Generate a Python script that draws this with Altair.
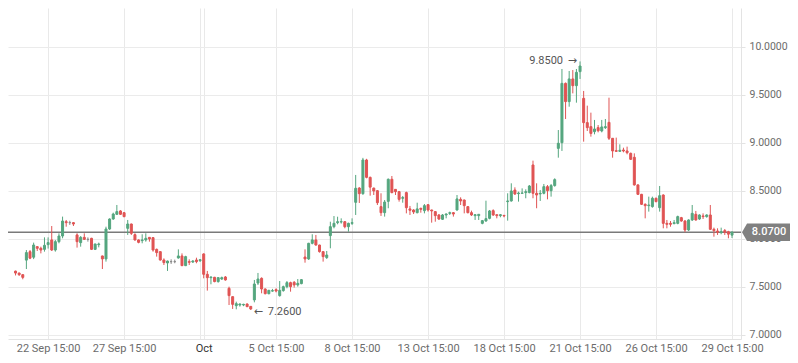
import altair as alt
import pandas as pd

# Hourly OHLC candles (index = trading hour, 7 bars per day)
open_ = [7.665, 7.645, 7.628, 7.78, 7.868, 7.81, 7.92, 7.903, 7.892, 7.941,
         7.99, 7.885, 7.972, 8.031, 8.18, 8.17, 8.17, 8.042, 7.962, 8.017,
         7.996, 8.007, 7.892, 7.941, 7.823, 7.792, 8.104, 8.208, 8.257, 8.292,
         8.274, 8.111, 8.156, 8.045, 7.99, 7.983, 7.99, 8.017, 8.014, 7.892,
         7.868, 7.781, 7.75, 7.764, 7.764, 7.802, 7.823, 7.722, 7.764, 7.76,
         7.781, 7.774, 7.844, 7.632, 7.597, 7.601, 7.556, 7.583, 7.604, 7.486,
         7.399, 7.305, 7.312, 7.312, 7.322, 7.298, 7.365, 7.541, 7.59, 7.479,
         7.43, 7.457, 7.472, 7.41, 7.462, 7.503, 7.545, 7.548, 7.521, 7.535,
         7.812, 7.792, 7.955, 7.99, 7.937, 7.868, 7.806, 8.035, 8.128, 8.17,
         8.177, 8.18, 8.128, 8.163, 8.382, 8.531, 8.472, 8.823, 8.642, 8.53,
         8.503, 8.337, 8.274, 8.392, 8.622, 8.517, 8.493, 8.424, 8.483, 8.313,
         8.302, 8.274, 8.319, 8.295, 8.357, 8.302, 8.285, 8.25, 8.205, 8.25,
         8.267, 8.274, 8.302, 8.413, 8.406, 8.337, 8.274, 8.243, 8.243, 8.163,
         8.187, 8.215, 8.295, 8.253, 8.243, 8.246, 8.389, 8.396, 8.51, 8.472,
         8.476, 8.483, 8.483, 8.771, 8.476, 8.469, 8.476, 8.545, 8.503, 8.556,
         8.944, 9.003, 9.621, 9.431, 9.667, 9.597, 9.743, 9.465, 9.212, 9.17,
         9.118, 9.16, 9.125, 9.16, 9.215, 9.049, 8.92, 8.913, 8.927, 8.917,
         8.892, 8.851, 8.563, 8.465, 8.361, 8.347, 8.337, 8.424, 8.326, 8.458,
         8.163, 8.163, 8.16, 8.163, 8.222, 8.187, 8.094, 8.198, 8.257, 8.208,
         8.24, 8.233, 8.25, 8.101, 8.083, 8.066, 8.087, 8.075, 8.04]
high = [7.67, 7.65, 7.632, 7.885, 7.885, 7.962, 7.925, 7.92, 8.017, 8.017,
        8.135, 7.99, 8.059, 8.233, 8.198, 8.19, 8.175, 8.059, 8.03, 8.059,
        8.017, 8.012, 7.95, 7.962, 7.826, 8.128, 8.215, 8.274, 8.354, 8.30,
        8.28, 8.198, 8.16, 8.059, 7.995, 8.049, 8.059, 8.02, 8.02, 7.90,
        7.87, 7.798, 7.775, 7.788, 7.785, 7.892, 7.85, 7.825, 7.788, 7.78,
        7.805, 7.79, 7.85, 7.667, 7.61, 7.605, 7.60, 7.608, 7.614, 7.503,
        7.40, 7.347, 7.33, 7.325, 7.33, 7.30, 7.573, 7.646, 7.60, 7.485,
        7.47, 7.48, 7.486, 7.562, 7.514, 7.562, 7.555, 7.562, 7.583, 7.583,
        7.892, 7.96, 8.049, 8.042, 7.94, 7.87, 7.875, 8.18, 8.239, 8.232,
        8.215, 8.187, 8.17, 8.215, 8.667, 8.54, 8.845, 8.835, 8.65, 8.535,
        8.51, 8.476, 8.406, 8.63, 8.656, 8.52, 8.50, 8.448, 8.493, 8.344,
        8.31, 8.378, 8.326, 8.364, 8.364, 8.305, 8.29, 8.26, 8.26, 8.267,
        8.285, 8.28, 8.458, 8.434, 8.41, 8.34, 8.295, 8.26, 8.26, 8.198,
        8.399, 8.302, 8.309, 8.255, 8.26, 8.25, 8.476, 8.58, 8.538, 8.493,
        8.527, 8.517, 8.562, 8.816, 8.58, 8.51, 8.573, 8.562, 8.573, 8.632,
        9.135, 9.771, 9.63, 9.75, 9.76, 9.771, 9.85, 9.542, 9.389, 9.316,
        9.24, 9.187, 9.24, 9.25, 9.472, 9.05, 9.056, 8.986, 8.951, 8.962,
        8.90, 8.892, 8.57, 8.47, 8.371, 8.441, 8.441, 8.431, 8.552, 8.465,
        8.198, 8.187, 8.198, 8.243, 8.23, 8.198, 8.205, 8.354, 8.292, 8.257,
        8.267, 8.257, 8.354, 8.118, 8.111, 8.118, 8.104, 8.085, 8.08]
low = [7.62, 7.615, 7.58, 7.687, 7.79, 7.79, 7.875, 7.85, 7.868, 7.90,
       7.875, 7.868, 7.955, 8.007, 8.128, 8.146, 8.135, 7.91, 7.92, 7.99,
       7.972, 7.885, 7.885, 7.913, 7.687, 7.764, 8.094, 8.20, 8.25, 8.25,
       8.226, 8.042, 8.042, 7.983, 7.955, 7.955, 7.972, 7.972, 7.868, 7.816,
       7.774, 7.729, 7.667, 7.74, 7.747, 7.795, 7.718, 7.718, 7.729, 7.75,
       7.747, 7.76, 7.59, 7.462, 7.528, 7.549, 7.545, 7.573, 7.566, 7.312,
       7.271, 7.267, 7.295, 7.30, 7.29, 7.26, 7.34, 7.521, 7.434, 7.423,
       7.423, 7.451, 7.444, 7.399, 7.451, 7.486, 7.451, 7.493, 7.503, 7.528,
       7.753, 7.781, 7.944, 7.93, 7.858, 7.764, 7.792, 7.903, 8.111, 8.153,
       8.16, 8.111, 8.076, 8.146, 8.25, 8.375, 8.46, 8.632, 8.451, 8.458,
       8.354, 8.24, 8.233, 8.32, 8.476, 8.458, 8.389, 8.378, 8.267, 8.25,
       8.26, 8.267, 8.274, 8.267, 8.285, 8.17, 8.18, 8.198, 8.198, 8.215,
       8.25, 8.233, 8.295, 8.354, 8.267, 8.267, 8.24, 8.198, 8.198, 8.153,
       8.18, 8.205, 8.24, 8.215, 8.226, 8.226, 8.191, 8.389, 8.458, 8.389,
       8.469, 8.424, 8.476, 8.424, 8.32, 8.396, 8.465, 8.413, 8.441, 8.545,
       8.847, 8.917, 9.25, 9.378, 9.517, 9.42, 9.667, 9.014, 9.125, 9.066,
       9.09, 9.111, 9.111, 9.146, 9.031, 8.847, 8.906, 8.906, 8.903, 8.882,
       8.823, 8.556, 8.458, 8.354, 8.215, 8.285, 8.326, 8.382, 8.285, 8.111,
       8.111, 8.128, 8.153, 8.153, 8.18, 8.07, 8.083, 8.187, 8.191, 8.198,
       8.208, 8.222, 8.094, 8.024, 8.042, 8.049, 8.042, 8.007, 8.01]
close = [7.645, 7.628, 7.60, 7.858, 7.80, 7.937, 7.903, 7.885, 7.934, 7.962,
         7.885, 7.972, 8.031, 8.187, 8.17, 8.17, 8.156, 7.972, 8.017, 7.996,
         7.996, 7.892, 7.948, 7.948, 7.792, 8.104, 8.208, 8.26, 8.285, 8.257,
         8.233, 8.156, 8.059, 7.99, 7.965, 7.99, 8.007, 8.0, 7.885, 7.858,
         7.781, 7.754, 7.77, 7.764, 7.764, 7.823, 7.722, 7.816, 7.757, 7.77,
         7.764, 7.784, 7.632, 7.597, 7.604, 7.556, 7.597, 7.597, 7.573, 7.41,
         7.319, 7.326, 7.322, 7.319, 7.295, 7.271, 7.531, 7.583, 7.479, 7.43,
         7.465, 7.462, 7.458, 7.465, 7.503, 7.545, 7.503, 7.521, 7.538, 7.576,
         7.792, 7.955, 7.99, 7.937, 7.868, 7.816, 7.833, 8.128, 8.163, 8.18,
         8.18, 8.128, 8.163, 8.17, 8.528, 8.472, 8.823, 8.642, 8.54, 8.50,
         8.378, 8.274, 8.385, 8.622, 8.483, 8.493, 8.413, 8.431, 8.326, 8.299,
         8.281, 8.313, 8.309, 8.347, 8.302, 8.292, 8.243, 8.208, 8.25, 8.26,
         8.274, 8.26, 8.417, 8.396, 8.347, 8.274, 8.25, 8.253, 8.257, 8.191,
         8.212, 8.292, 8.25, 8.243, 8.253, 8.24, 8.396, 8.50, 8.469, 8.479,
         8.479, 8.493, 8.552, 8.476, 8.458, 8.476, 8.545, 8.503, 8.556, 8.618,
         8.997, 9.621, 9.431, 9.667, 9.597, 9.736, 9.802, 9.212, 9.16, 9.10,
         9.146, 9.128, 9.167, 9.17, 9.049, 8.917, 8.913, 8.924, 8.917, 8.899,
         8.83, 8.563, 8.465, 8.361, 8.347, 8.354, 8.424, 8.389, 8.451, 8.163,
         8.153, 8.153, 8.17, 8.233, 8.187, 8.094, 8.198, 8.267, 8.198, 8.25,
         8.233, 8.25, 8.101, 8.087, 8.069, 8.076, 8.069, 8.05, 8.07]

tick_index = [9, 30, 51, 52, 72, 93, 114, 135, 156, 177, 198]
tick_labels = ["22 Sep 15:00", "27 Sep 15:00", "", "Oct", "5 Oct 15:00",
               "8 Oct 15:00", "13 Oct 15:00", "18 Oct 15:00", "21 Oct 15:00",
               "26 Oct 15:00", "29 Oct 15:00"]
y_ticks = [7.0, 7.5, 8.0, 8.5, 9.0, 9.5, 10.0]
last_price = 8.07
max_point = {"i": 156, "p": 9.85, "label": "9.8500", "arrow": "\u2192"}
min_point = {"i": 65, "p": 7.26, "label": "7.2600", "arrow": "\u2190"}

GREEN = "#55a67f"
RED = "#e05454"
GRAY = "#8a8a8a"
FONT = "Roboto"

direction = ["up" if c > o else ("down" if c < o else "flat") for o, c in zip(open_, close)]
df = pd.DataFrame({"i": list(range(len(close))), "open": open_, "high": high,
                   "low": low, "close": close, "dir": direction})

label_expr = "''"
for idx, lab in reversed(list(zip(tick_index, tick_labels))):
    label_expr = f"datum.value == {idx} ? '{lab}' : ({label_expr})"

x_scale = alt.Scale(domain=[-0.7, 199.1], nice=False, zero=False)
y_scale = alt.Scale(domain=[6.958, 10.40625], nice=False, zero=False)
color_scale = alt.Scale(domain=["up", "down", "flat"], range=[GREEN, RED, GRAY])

x_axis = alt.Axis(values=tick_index, labelExpr=label_expr, title=None, grid=True,
                  gridColor="#e9e9e9",
                  ticks=False, domain=True, domainColor="#e3e3e3", labelFont=FONT,
                  labelFontSize=11,
                  labelColor={"condition": {"test": "datum.value == 52", "value": "#333333"}, "value": "#6b6b6b"},
                  labelPadding=3, labelFlush=False, labelOverlap=False)
y_axis = alt.Axis(orient="right", values=y_ticks, format=".4f", title=None, grid=True,
                  gridColor="#ebebeb", ticks=True, tickSize=4, tickColor="#e3e3e3",
                  domain=True, domainColor="#e3e3e3", labelFont=FONT, labelFontSize=10.5,
                  labelColor="#6b6b6b", labelPadding=4)

base = alt.Chart(df)

wicks = base.mark_rule(strokeWidth=1).encode(
    x=alt.X("i:Q", scale=x_scale, axis=x_axis),
    y=alt.Y("low:Q", scale=y_scale, axis=y_axis),
    y2="high:Q",
    color=alt.Color("dir:N", scale=color_scale, legend=None),
)

bodies = base.mark_bar(size=2, strokeWidth=1).encode(
    x=alt.X("i:Q", scale=x_scale),
    y=alt.Y("open:Q", scale=y_scale),
    y2="close:Q",
    color=alt.Color("dir:N", scale=color_scale, legend=None),
    stroke=alt.Stroke("dir:N", scale=color_scale, legend=None),
)

last_df = pd.DataFrame({"p": [last_price], "label": [f"{last_price:.4f}"]})
last_line = alt.Chart(last_df).mark_rule(color="#7a7a7a", strokeWidth=1.5).encode(
    y=alt.Y("p:Q", scale=y_scale)
)
tag_shape = "M-1,0L-0.82,-0.31L1,-0.31L1,0.31L-0.82,0.31Z"
last_tag = alt.Chart(last_df).mark_point(shape=tag_shape, size=3136, filled=True,
                                         color="#808080", opacity=1).encode(
    x=alt.value(762), y=alt.Y("p:Q", scale=y_scale)
)
last_text = alt.Chart(last_df).mark_text(color="white", font=FONT, fontSize=11,
                                         fontWeight=500, align="center",
                                         baseline="middle").encode(
    x=alt.value(761), y=alt.Y("p:Q", scale=y_scale), text="label:N"
)

max_df = pd.DataFrame([max_point])
min_df = pd.DataFrame([min_point])
max_arrow = alt.Chart(max_df).mark_text(
    align="right", baseline="middle", dx=-3, color="#555555", font="DejaVu Sans", fontSize=11
).encode(x=alt.X("i:Q", scale=x_scale), y=alt.Y("p:Q", scale=y_scale), text="arrow:N")
max_text = alt.Chart(max_df).mark_text(
    align="right", baseline="middle", dx=-17, color="#555555", font=FONT, fontSize=11
).encode(x=alt.X("i:Q", scale=x_scale), y=alt.Y("p:Q", scale=y_scale), text="label:N")
min_arrow = alt.Chart(min_df).mark_text(
    align="left", baseline="middle", dx=3, dy=2, color="#555555", font="DejaVu Sans", fontSize=11
).encode(x=alt.X("i:Q", scale=x_scale), y=alt.Y("p:Q", scale=y_scale), text="arrow:N")
min_text = alt.Chart(min_df).mark_text(
    align="left", baseline="middle", dx=17, dy=2, color="#555555", font=FONT, fontSize=11
).encode(x=alt.X("i:Q", scale=x_scale), y=alt.Y("p:Q", scale=y_scale), text="label:N")

chart = alt.layer(last_line, wicks, bodies, max_arrow, max_text, min_arrow, min_text,
                  last_tag, last_text).properties(
    width=733, height=331,
    autosize=alt.AutoSizeParams(type="none"),
    padding={"left": 0, "top": 0, "right": 49, "bottom": 16},
    background="white",
).configure_view(stroke=None)

chart.save("out.html", embed_options={"renderer": "svg", "actions": False})
